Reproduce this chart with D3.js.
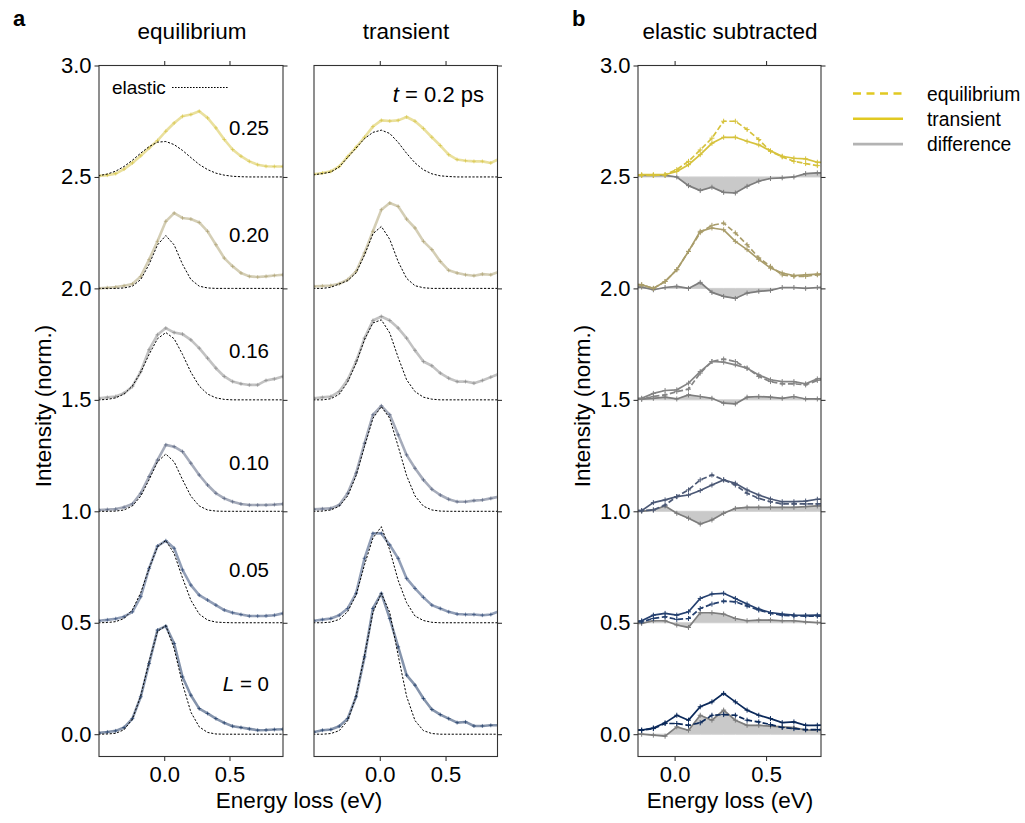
<!DOCTYPE html>
<html>
<head>
<meta charset="utf-8">
<script src="https://cdn.jsdelivr.net/npm/d3@7"></script>
<style>
  body { margin: 0; background: #fff; }
  text { font-family: "Liberation Sans", Arial, sans-serif; fill: #000; }
</style>
</head>
<body>
<svg id="chart" width="1025" height="823"></svg>
<script>
// energy grid (eV) of the RIXS spectra
const energy = [-0.564, -0.5, -0.436, -0.372, -0.308, -0.244, -0.18, -0.116, -0.052, 0.012,
  0.076, 0.14, 0.204, 0.268, 0.332, 0.396, 0.46, 0.524, 0.588, 0.652, 0.716, 0.78, 0.844, 0.908];
// grid used for the elastic-subtracted panel
const energyB = [-0.244, -0.18, -0.116, -0.052, 0.012, 0.076, 0.14, 0.204, 0.268, 0.332,
  0.396, 0.46, 0.524, 0.588, 0.652, 0.716, 0.78, 0.844];

const momenta = ["0.25", "0.20", "0.16", "0.10", "0.05", "0"];
const offsets = [2.5, 2.0, 1.5, 1.0, 0.5, 0.0];
const labelLevels = [2.72, 2.24, 1.72, 1.22, 0.74, 0.23];

const yTicks = [0, 0.5, 1, 1.5, 2, 2.5, 3];
const xTicks = [0, 0.5];

// panel a, equilibrium
const eqSpectra = [
  [2.503, 2.505, 2.508, 2.515, 2.535, 2.563, 2.595, 2.63, 2.663, 2.705, 2.742, 2.772, 2.78, 2.795, 2.765, 2.72, 2.668, 2.623, 2.593, 2.57, 2.555, 2.548, 2.547, 2.547],
  [2.0, 2.0, 2.003, 2.006, 2.012, 2.02, 2.054, 2.129, 2.211, 2.301, 2.338, 2.316, 2.311, 2.296, 2.256, 2.196, 2.136, 2.099, 2.069, 2.054, 2.051, 2.054, 2.058, 2.061],
  [1.504, 1.507, 1.511, 1.515, 1.53, 1.56, 1.627, 1.725, 1.792, 1.822, 1.802, 1.795, 1.769, 1.732, 1.687, 1.642, 1.605, 1.582, 1.572, 1.567, 1.567, 1.587, 1.594, 1.605],
  [1.004, 1.006, 1.008, 1.01, 1.018, 1.033, 1.081, 1.156, 1.23, 1.298, 1.29, 1.268, 1.216, 1.163, 1.118, 1.081, 1.058, 1.043, 1.033, 1.028, 1.028, 1.028, 1.03, 1.033],
  [0.505, 0.509, 0.513, 0.518, 0.527, 0.549, 0.617, 0.744, 0.844, 0.868, 0.834, 0.737, 0.669, 0.624, 0.602, 0.579, 0.557, 0.545, 0.537, 0.53, 0.53, 0.531, 0.534, 0.542],
  [0.003, 0.006, 0.01, 0.015, 0.03, 0.07, 0.168, 0.317, 0.467, 0.485, 0.407, 0.257, 0.175, 0.115, 0.093, 0.07, 0.051, 0.036, 0.03, 0.024, 0.018, 0.019, 0.021, 0.022]
];
const eqElastic = [
  [2.502, 2.506, 2.513, 2.526, 2.547, 2.575, 2.607, 2.636, 2.656, 2.659, 2.645, 2.619, 2.587, 2.556, 2.533, 2.517, 2.508, 2.503, 2.501, 2.5, 2.5, 2.5, 2.5, 2.5],
  [2.0, 2.0, 2.0, 2.0, 2.002, 2.01, 2.04, 2.108, 2.195, 2.237, 2.195, 2.108, 2.04, 2.01, 2.002, 2.0, 2.0, 2.0, 2.0, 2.0, 2.0, 2.0, 2.0, 2.0],
  [1.5, 1.5, 1.502, 1.509, 1.526, 1.562, 1.624, 1.704, 1.774, 1.802, 1.774, 1.704, 1.624, 1.562, 1.526, 1.509, 1.502, 1.5, 1.5, 1.5, 1.5, 1.5, 1.5, 1.5],
  [1.0, 1.0, 1.0, 1.001, 1.006, 1.024, 1.068, 1.142, 1.222, 1.257, 1.222, 1.142, 1.068, 1.024, 1.006, 1.001, 1.0, 1.0, 1.0, 1.0, 1.0, 1.0, 1.0, 1.0],
  [0.5, 0.5, 0.501, 0.505, 0.519, 0.558, 0.635, 0.744, 0.841, 0.869, 0.81, 0.701, 0.601, 0.539, 0.512, 0.503, 0.501, 0.5, 0.5, 0.5, 0.5, 0.5, 0.5, 0.5],
  [0.0, 0.0, 0.001, 0.004, 0.02, 0.068, 0.172, 0.326, 0.461, 0.487, 0.384, 0.226, 0.099, 0.033, 0.008, 0.001, 0.0, 0.0, 0.0, 0.0, 0.0, 0.0, 0.0, 0.0]
];

// panel a, transient (t = 0.2 ps)
const trSpectra = [
  [2.505, 2.512, 2.518, 2.525, 2.547, 2.591, 2.633, 2.678, 2.726, 2.754, 2.751, 2.754, 2.769, 2.75, 2.717, 2.678, 2.641, 2.6, 2.578, 2.573, 2.57, 2.57, 2.563, 2.581],
  [2.007, 2.009, 2.011, 2.013, 2.021, 2.039, 2.076, 2.159, 2.256, 2.353, 2.383, 2.368, 2.311, 2.271, 2.211, 2.174, 2.121, 2.081, 2.069, 2.061, 2.057, 2.064, 2.061, 2.075],
  [1.504, 1.507, 1.511, 1.515, 1.537, 1.59, 1.672, 1.777, 1.856, 1.874, 1.856, 1.822, 1.777, 1.722, 1.672, 1.653, 1.62, 1.597, 1.582, 1.582, 1.575, 1.587, 1.602, 1.617],
  [1.006, 1.009, 1.011, 1.013, 1.028, 1.081, 1.171, 1.305, 1.433, 1.473, 1.433, 1.343, 1.253, 1.193, 1.141, 1.099, 1.073, 1.054, 1.043, 1.043, 1.048, 1.051, 1.058, 1.066],
  [0.505, 0.509, 0.514, 0.519, 0.534, 0.564, 0.632, 0.789, 0.901, 0.901, 0.849, 0.789, 0.699, 0.654, 0.614, 0.579, 0.564, 0.549, 0.539, 0.537, 0.537, 0.534, 0.537, 0.552],
  [0.006, 0.01, 0.018, 0.021, 0.036, 0.07, 0.168, 0.347, 0.564, 0.632, 0.519, 0.392, 0.265, 0.22, 0.16, 0.111, 0.088, 0.07, 0.052, 0.055, 0.037, 0.037, 0.04, 0.04]
];
const trElastic = [
  [2.507, 2.51, 2.515, 2.522, 2.545, 2.588, 2.63, 2.672, 2.7, 2.71, 2.695, 2.655, 2.606, 2.563, 2.532, 2.514, 2.505, 2.502, 2.5, 2.5, 2.5, 2.5, 2.5, 2.5],
  [2.0, 2.0, 2.0, 2.005, 2.02, 2.035, 2.07, 2.15, 2.245, 2.278, 2.22, 2.12, 2.045, 2.012, 2.003, 2.0, 2.0, 2.0, 2.0, 2.0, 2.0, 2.0, 2.0, 2.0],
  [1.5, 1.5, 1.5, 1.505, 1.525, 1.58, 1.665, 1.77, 1.845, 1.859, 1.8, 1.69, 1.59, 1.537, 1.512, 1.503, 1.5, 1.5, 1.5, 1.5, 1.5, 1.5, 1.5, 1.5],
  [1.0, 1.0, 1.001, 1.006, 1.023, 1.069, 1.16, 1.291, 1.417, 1.47, 1.417, 1.291, 1.16, 1.069, 1.023, 1.006, 1.001, 1.0, 1.0, 1.0, 1.0, 1.0, 1.0, 1.0],
  [0.5, 0.5, 0.5, 0.503, 0.515, 0.55, 0.625, 0.76, 0.88, 0.931, 0.826, 0.69, 0.59, 0.53, 0.51, 0.502, 0.5, 0.5, 0.5, 0.5, 0.5, 0.5, 0.5, 0.5],
  [0.0, 0.0, 0.0, 0.003, 0.016, 0.061, 0.17, 0.353, 0.546, 0.632, 0.546, 0.353, 0.17, 0.061, 0.016, 0.003, 0.0, 0.0, 0.0, 0.0, 0.0, 0.0, 0.0, 0.0]
];

// panel b, elastic subtracted
const eqSub = [
  [2.506, 2.507, 2.507, 2.51, 2.533, 2.57, 2.621, 2.674, 2.75, 2.75, 2.713, 2.668, 2.615, 2.59, 2.57, 2.56, 2.551, 2.546],
  [2.02, 2.016, 2.0, 2.031, 2.084, 2.166, 2.25, 2.283, 2.293, 2.249, 2.196, 2.137, 2.099, 2.061, 2.054, 2.054, 2.061, 2.063],
  [1.503, 1.503, 1.515, 1.522, 1.537, 1.548, 1.62, 1.672, 1.683, 1.672, 1.642, 1.605, 1.582, 1.572, 1.572, 1.567, 1.587, 1.595],
  [1.002, 1.003, 1.006, 1.028, 1.066, 1.096, 1.141, 1.163, 1.141, 1.118, 1.081, 1.058, 1.043, 1.033, 1.033, 1.033, 1.033, 1.033],
  [0.502, 0.504, 0.519, 0.527, 0.515, 0.519, 0.564, 0.584, 0.597, 0.594, 0.575, 0.557, 0.542, 0.534, 0.531, 0.53, 0.53, 0.53],
  [0.018, 0.018, 0.025, 0.048, 0.048, 0.04, 0.051, 0.085, 0.088, 0.085, 0.063, 0.055, 0.043, 0.03, 0.025, 0.021, 0.021, 0.021]
];
const trSub = [
  [2.508, 2.51, 2.51, 2.51, 2.525, 2.555, 2.6, 2.651, 2.678, 2.678, 2.66, 2.644, 2.617, 2.593, 2.584, 2.581, 2.566, 2.563],
  [2.02, 2.016, 2.0, 2.031, 2.084, 2.166, 2.256, 2.271, 2.263, 2.211, 2.174, 2.13, 2.091, 2.069, 2.057, 2.061, 2.064, 2.066],
  [1.508, 1.507, 1.529, 1.542, 1.545, 1.575, 1.627, 1.672, 1.669, 1.657, 1.642, 1.612, 1.59, 1.582, 1.582, 1.572, 1.594, 1.6],
  [1.002, 1.003, 1.039, 1.051, 1.066, 1.073, 1.093, 1.118, 1.141, 1.126, 1.096, 1.073, 1.055, 1.043, 1.043, 1.046, 1.054, 1.057],
  [0.505, 0.509, 0.534, 0.542, 0.534, 0.549, 0.609, 0.629, 0.632, 0.609, 0.584, 0.561, 0.546, 0.539, 0.534, 0.533, 0.534, 0.534],
  [0.018, 0.018, 0.028, 0.051, 0.085, 0.063, 0.123, 0.145, 0.183, 0.145, 0.108, 0.085, 0.07, 0.052, 0.055, 0.04, 0.04, 0.043]
];
const diffSub = [
  [2.507, 2.507, 2.507, 2.507, 2.5, 2.461, 2.439, 2.454, 2.431, 2.428, 2.458, 2.481, 2.493, 2.496, 2.5, 2.515, 2.518, 2.52],
  [2.006, 2.006, 1.994, 2.004, 2.009, 2.0, 2.027, 1.982, 1.964, 1.955, 1.979, 1.987, 1.991, 2.004, 2.004, 2.0, 2.004, 2.005],
  [1.503, 1.503, 1.507, 1.512, 1.504, 1.522, 1.515, 1.507, 1.485, 1.482, 1.512, 1.515, 1.512, 1.507, 1.515, 1.504, 1.504, 1.504],
  [1.0, 1.0, 1.006, 1.024, 0.991, 0.969, 0.943, 0.961, 0.991, 1.013, 1.018, 1.018, 1.018, 1.018, 1.018, 1.021, 1.024, 1.024],
  [0.497, 0.497, 0.509, 0.509, 0.49, 0.479, 0.545, 0.545, 0.539, 0.519, 0.509, 0.512, 0.512, 0.509, 0.509, 0.504, 0.501, 0.5],
  [0.0, 0.0, -0.004, -0.009, 0.033, 0.018, 0.085, 0.063, 0.108, 0.063, 0.04, 0.04, 0.036, 0.033, 0.03, 0.018, 0.018, 0.018]
];

const colors = ["#d6c23c", "#a99d6b", "#858585", "#4b5875", "#25406f", "#0b295a"];
const diffColor = "#7d7d7d";
const font = '"Liberation Sans", Arial, sans-serif';

const svg = d3.select("#chart");
const plotTop = 65.5, plotBottom = 756.5;
const y = d3.scaleLinear().domain([-0.1, 3.0]).range([plotBottom, plotTop]);

function makePanel(id, x0, x1, domain, leftLabels, leftTicks) {
  const x = d3.scaleLinear().domain(domain).range([x0, x1]);
  const g = svg.append("g");
  svg.append("defs").append("clipPath").attr("id", id)
    .append("rect").attr("x", x0).attr("y", plotTop).attr("width", x1 - x0).attr("height", plotBottom - plotTop);
  const plot = g.append("g").attr("clip-path", `url(#${id})`);

  const fmt = d3.format(".1f");
  const axes = [
    [d3.axisBottom(x).tickValues(xTicks).tickFormat(fmt).tickPadding(5), `translate(0,${plotBottom})`],
    [d3.axisTop(x).tickValues(xTicks).tickFormat(""), `translate(0,${plotTop})`],
    [d3.axisRight(y).tickValues(yTicks).tickFormat(""), `translate(${x1},0)`]
  ];
  if (leftTicks) {
    axes.push([d3.axisLeft(y).tickValues(yTicks).tickFormat(leftLabels ? fmt : "").tickPadding(3), `translate(${x0},0)`]);
  }
  axes.forEach(([ax, tr]) => {
    const a = g.append("g").attr("transform", tr).call(ax.tickSize(4.5));
    a.select(".domain").remove();
    a.selectAll("line").attr("stroke", "#222");
    a.selectAll("text").style("font-size", "22px").style("font-family", font);
  });
  g.append("rect").attr("x", x0).attr("y", plotTop).attr("width", x1 - x0).attr("height", plotBottom - plotTop)
    .attr("fill", "none").attr("stroke", "#333").attr("stroke-width", 1.1);
  return { x, g, plot };
}

function plusMarks(sel, pts, x, color, size, opacity) {
  const h = size / 2;
  sel.append("path")
    .attr("d", pts.map(([e, v]) => `M${x(e) - h},${y(v)}h${size}M${x(e)},${y(v) - h}v${size}`).join(""))
    .attr("stroke", color).attr("stroke-width", 1).attr("fill", "none")
    .attr("opacity", opacity);
}

function drawRaw(panel, spectra, elastic) {
  const line = d3.line().x(d => panel.x(d[0])).y(d => y(d[1]));
  spectra.forEach((vals, i) => {
    const pts = energy.map((e, k) => [e, vals[k]]);
    panel.plot.append("path").attr("d", line(pts))
      .attr("fill", "none").attr("stroke", colors[i]).attr("stroke-width", 2.6)
      .attr("stroke-opacity", 0.5).attr("stroke-linejoin", "round");
    plusMarks(panel.plot, pts, panel.x, colors[i], 4, 0.55);
  });
  elastic.forEach((vals) => {
    const pts = energy.map((e, k) => [e, vals[k]]);
    panel.plot.append("path").attr("d", line(pts))
      .attr("fill", "none").attr("stroke", "#000").attr("stroke-width", 1)
      .attr("stroke-dasharray", "2.2,1.6");
  });
}

// ---- panel a: equilibrium
const pEq = makePanel("clipEq", 99, 283, [-0.5, 0.91], true, true);
drawRaw(pEq, eqSpectra, eqElastic);

// ---- panel a: transient
const pTr = makePanel("clipTr", 314, 497.5, [-0.5, 0.895], false, false);
drawRaw(pTr, trSpectra, trElastic);

// ---- panel b: elastic subtracted
const pB = makePanel("clipB", 638, 821, [-0.2, 0.8], true, true);
const lineB = d3.line().x(d => pB.x(d[0])).y(d => y(d[1]));
offsets.forEach((base, i) => {
  const dpts = energyB.map((e, k) => [e, diffSub[i][k]]);
  const area = d3.area().x(d => pB.x(d[0])).y0(y(base)).y1(d => y(d[1]));
  pB.plot.append("path").attr("d", area(dpts))
    .attr("fill", "#c9c9c9").attr("stroke", "#cfcfcf").attr("stroke-width", 1);
  pB.plot.append("path").attr("d", lineB(dpts))
    .attr("fill", "none").attr("stroke", diffColor).attr("stroke-width", 1.7);
  plusMarks(pB.plot, dpts, pB.x, diffColor, 5, 1);

  const epts = energyB.map((e, k) => [e, eqSub[i][k]]);
  pB.plot.append("path").attr("d", lineB(epts))
    .attr("fill", "none").attr("stroke", colors[i]).attr("stroke-width", 1.7)
    .attr("stroke-dasharray", "5.5,2.6");
  plusMarks(pB.plot, epts, pB.x, colors[i], 5, 1);

  const tpts = energyB.map((e, k) => [e, trSub[i][k]]);
  pB.plot.append("path").attr("d", lineB(tpts))
    .attr("fill", "none").attr("stroke", colors[i]).attr("stroke-width", 1.7);
  plusMarks(pB.plot, tpts, pB.x, colors[i], 5, 1);
});

// ---- labels
const txt = (x, yy, s, size, anchor) => svg.append("text").attr("x", x).attr("y", yy)
  .attr("text-anchor", anchor || "middle").style("font-size", size + "px").text(s);

txt(13, 26, "a", 22, "start").style("font-weight", "bold");
txt(572, 26, "b", 22, "start").style("font-weight", "bold");
txt(192, 39, "equilibrium", 22.5);
txt(406, 39, "transient", 22.5);
txt(730, 39, "elastic subtracted", 22.5);
txt(299, 808, "Energy loss (eV)", 22.5);
txt(730, 808, "Energy loss (eV)", 22.5);
svg.append("text").attr("transform", "translate(51,406) rotate(-90)")
  .attr("text-anchor", "middle").style("font-size", "22.5px").text("Intensity (norm.)");
svg.append("text").attr("transform", "translate(590,406) rotate(-90)")
  .attr("text-anchor", "middle").style("font-size", "22.5px").text("Intensity (norm.)");

// momentum labels
momenta.forEach((m, i) => {
  const t = svg.append("text").attr("x", 269).attr("y", y(labelLevels[i]))
    .attr("text-anchor", "end").attr("dominant-baseline", "central").style("font-size", "20.5px");
  if (m === "0") {
    t.append("tspan").style("font-style", "italic").text("L");
    t.append("tspan").text(" = 0");
  } else {
    t.text(m);
  }
});

// elastic key
txt(112, 94, "elastic", 19, "start");
svg.append("line").attr("x1", 172).attr("x2", 229).attr("y1", 87.5).attr("y2", 87.5)
  .attr("stroke", "#000").attr("stroke-width", 1).attr("stroke-dasharray", "1.6,1.4");

const tLab = svg.append("text").attr("x", 484).attr("y", 102).attr("text-anchor", "end")
  .style("font-size", "22px");
tLab.append("tspan").style("font-style", "italic").text("t");
tLab.append("tspan").text(" = 0.2 ps");

// legend of panel b
const legendRows = [
  { label: "equilibrium", color: "#e1c922", dash: "8,5.5" },
  { label: "transient", color: "#e1c922", dash: null },
  { label: "difference", color: "#b3b3b3", dash: null }
];
legendRows.forEach((r, i) => {
  const ly = 93.5 + i * 25.3;
  svg.append("line").attr("x1", 853).attr("x2", 903).attr("y1", ly).attr("y2", ly)
    .attr("stroke", r.color).attr("stroke-width", 2.6)
    .attr("stroke-dasharray", r.dash);
  txt(927, ly + 7, r.label, 19.3, "start");
});
</script>
</body>
</html>
